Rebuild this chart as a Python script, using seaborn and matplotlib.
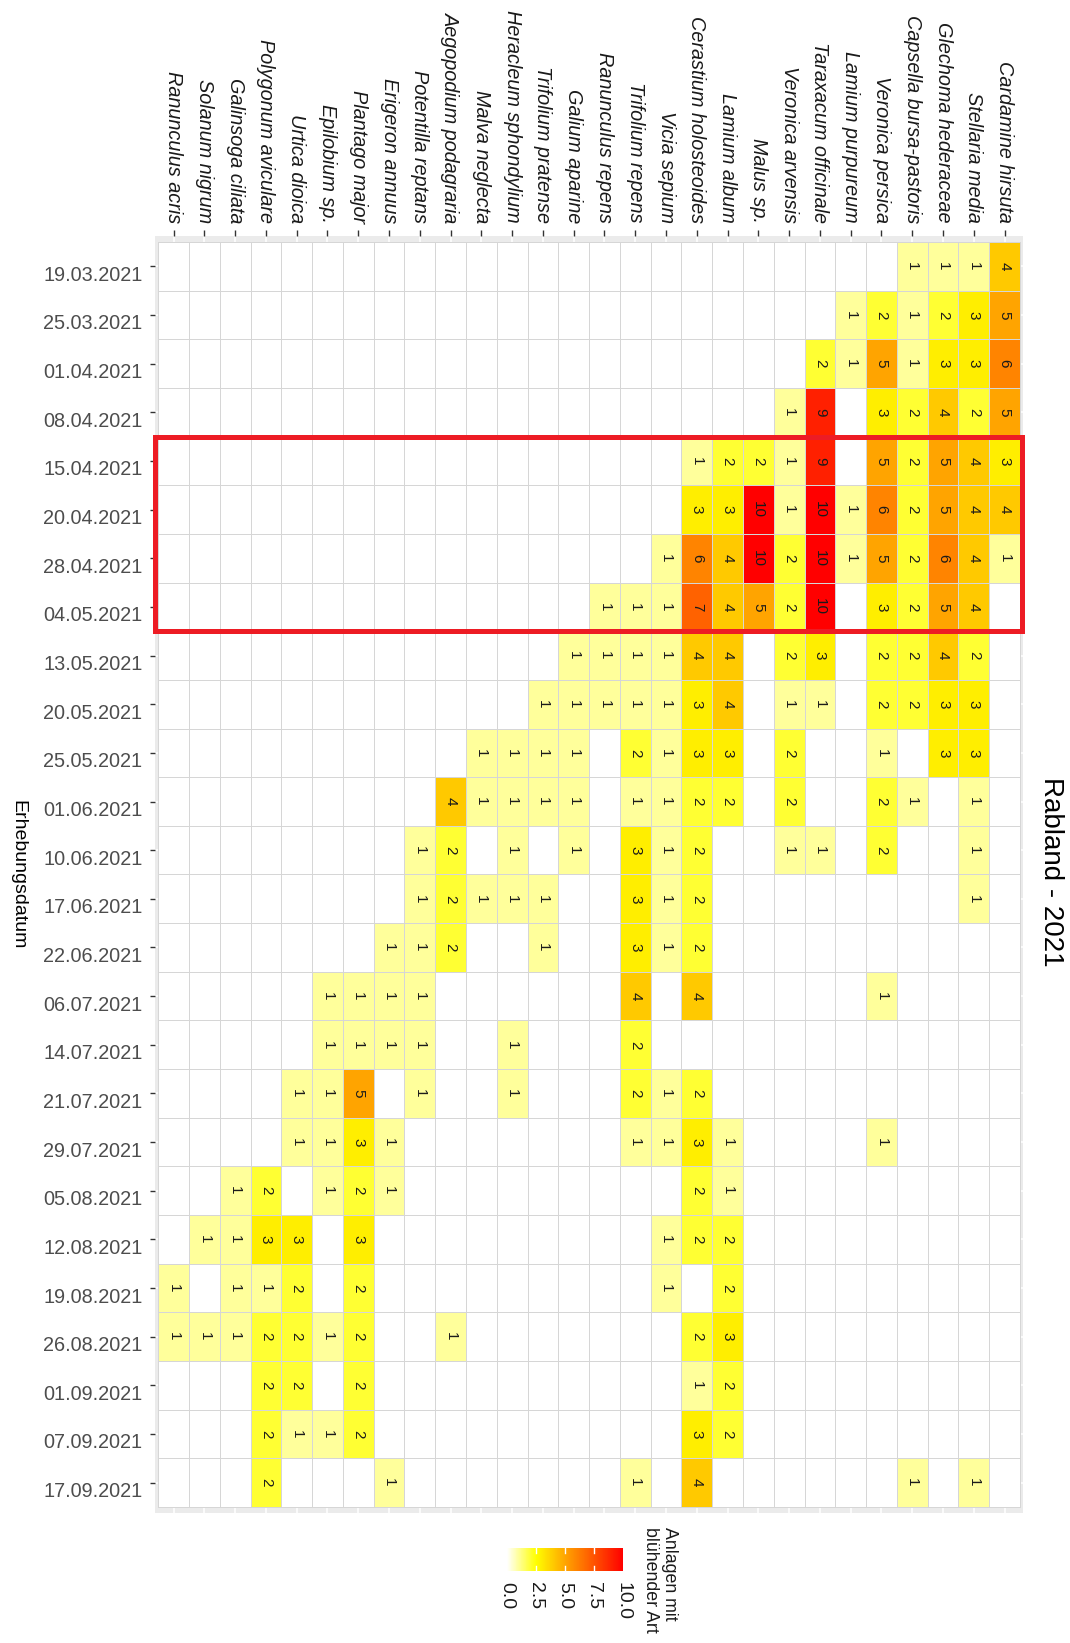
import numpy as np
import pandas as pd
import matplotlib
matplotlib.use("Agg")
import matplotlib.pyplot as plt
import matplotlib.transforms as mtransforms
from matplotlib.colors import LinearSegmentedColormap
from matplotlib.patches import Rectangle
import seaborn as sns

# ---------------- data ----------------
species = ["Ranunculus acris", "Solanum nigrum", "Galinsoga ciliata", "Polygonum aviculare",
           "Urtica dioica", "Epilobium sp.", "Plantago major", "Erigeron annuus",
           "Potentilla reptans", "Aegopodium podagraria", "Malva neglecta",
           "Heracleum sphondylium", "Trifolium pratense", "Galium aparine",
           "Ranunculus repens", "Trifolium repens", "Vicia sepium",
           "Cerastium holosteoides", "Lamium album", "Malus sp.", "Veronica arvensis",
           "Taraxacum officinale", "Lamium purpureum", "Veronica persica",
           "Capsella bursa-pastoris", "Glechoma hederaceae", "Stellaria media",
           "Cardamine hirsuta"]

dates = ["19.03.2021", "25.03.2021", "01.04.2021", "08.04.2021", "15.04.2021",
         "20.04.2021", "28.04.2021", "04.05.2021", "13.05.2021", "20.05.2021",
         "25.05.2021", "01.06.2021", "10.06.2021", "17.06.2021", "22.06.2021",
         "06.07.2021", "14.07.2021", "21.07.2021", "29.07.2021", "05.08.2021",
         "12.08.2021", "19.08.2021", "26.08.2021", "01.09.2021", "07.09.2021",
         "17.09.2021"]

# number of sites with flowering species, one list per survey date (order = species)
d_1903 = [0,0,0,0,0,0,0,0,0,0,0,0,0,0,0,0,0,0,0,0,0,0,0,0,1,1,1,4]
d_2503 = [0,0,0,0,0,0,0,0,0,0,0,0,0,0,0,0,0,0,0,0,0,0,1,2,1,2,3,5]
d_0104 = [0,0,0,0,0,0,0,0,0,0,0,0,0,0,0,0,0,0,0,0,0,2,1,5,1,3,3,6]
d_0804 = [0,0,0,0,0,0,0,0,0,0,0,0,0,0,0,0,0,0,0,0,1,9,0,3,2,4,2,5]
d_1504 = [0,0,0,0,0,0,0,0,0,0,0,0,0,0,0,0,0,1,2,2,1,9,0,5,2,5,4,3]
d_2004 = [0,0,0,0,0,0,0,0,0,0,0,0,0,0,0,0,0,3,3,10,1,10,1,6,2,5,4,4]
d_2804 = [0,0,0,0,0,0,0,0,0,0,0,0,0,0,0,0,1,6,4,10,2,10,1,5,2,6,4,1]
d_0405 = [0,0,0,0,0,0,0,0,0,0,0,0,0,0,1,1,1,7,4,5,2,10,0,3,2,5,4,0]
d_1305 = [0,0,0,0,0,0,0,0,0,0,0,0,0,1,1,1,1,4,4,0,2,3,0,2,2,4,2,0]
d_2005 = [0,0,0,0,0,0,0,0,0,0,0,0,1,1,1,1,1,3,4,0,1,1,0,2,2,3,3,0]
d_2505 = [0,0,0,0,0,0,0,0,0,0,1,1,1,1,0,2,1,3,3,0,2,0,0,1,0,3,3,0]
d_0106 = [0,0,0,0,0,0,0,0,0,4,1,1,1,1,0,1,1,2,2,0,2,0,0,2,1,0,1,0]
d_1006 = [0,0,0,0,0,0,0,0,1,2,0,1,0,1,0,3,1,2,0,0,1,1,0,2,0,0,1,0]
d_1706 = [0,0,0,0,0,0,0,0,1,2,1,1,1,0,0,3,1,2,0,0,0,0,0,0,0,0,1,0]
d_2206 = [0,0,0,0,0,0,0,1,1,2,0,0,1,0,0,3,1,2,0,0,0,0,0,0,0,0,0,0]
d_0607 = [0,0,0,0,0,1,1,1,1,0,0,0,0,0,0,4,0,4,0,0,0,0,0,1,0,0,0,0]
d_1407 = [0,0,0,0,0,1,1,1,1,0,0,1,0,0,0,2,0,0,0,0,0,0,0,0,0,0,0,0]
d_2107 = [0,0,0,0,1,1,5,0,1,0,0,1,0,0,0,2,1,2,0,0,0,0,0,0,0,0,0,0]
d_2907 = [0,0,0,0,1,1,3,1,0,0,0,0,0,0,0,1,1,3,1,0,0,0,0,1,0,0,0,0]
d_0508 = [0,0,1,2,0,1,2,1,0,0,0,0,0,0,0,0,0,2,1,0,0,0,0,0,0,0,0,0]
d_1208 = [0,1,1,3,3,0,3,0,0,0,0,0,0,0,0,0,1,2,2,0,0,0,0,0,0,0,0,0]
d_1908 = [1,0,1,1,2,0,2,0,0,0,0,0,0,0,0,0,1,0,2,0,0,0,0,0,0,0,0,0]
d_2608 = [1,1,1,2,2,1,2,0,0,1,0,0,0,0,0,0,0,2,3,0,0,0,0,0,0,0,0,0]
d_0109 = [0,0,0,2,2,0,2,0,0,0,0,0,0,0,0,0,0,1,2,0,0,0,0,0,0,0,0,0]
d_0709 = [0,0,0,2,1,1,2,0,0,0,0,0,0,0,0,0,0,3,2,0,0,0,0,0,0,0,0,0]
d_1709 = [0,0,0,2,0,0,0,1,0,0,0,0,0,0,0,1,0,4,0,0,0,0,0,0,1,0,1,0]

rows = [d_1903, d_2503, d_0104, d_0804, d_1504, d_2004, d_2804, d_0405, d_1305,
        d_2005, d_2505, d_0106, d_1006, d_1706, d_2206, d_0607, d_1407, d_2107,
        d_2907, d_0508, d_1208, d_1908, d_2608, d_0109, d_0709, d_1709]
for r in rows:
    assert len(r) == len(species)

highlight_dates = ["15.04.2021", "04.05.2021"]
legend_ticks = [0, 2.5, 5, 7.5, 10]

df = pd.DataFrame(rows, index=dates, columns=species)
annot = df.map(lambda v: "" if v == 0 else str(v))

# ---------------- style ----------------
plt.rcParams["font.family"] = ["Liberation Sans", "DejaVu Sans"]

W, H = 1070, 1643
fig = plt.figure(figsize=(W / 100, H / 100), dpi=100)

ax = fig.add_axes([0.1450, 0.07925, 0.8111, 0.7770])
cax = fig.add_axes([0.4738, 0.0438, 0.1084, 0.0140])

cmap = LinearSegmentedColormap.from_list(
    "wyor", [(0.0, "white"), (0.25, "yellow"), (0.5, "orange"), (1.0, "red")])

ax.set_facecolor("#EBEBEB")
ax.set_axisbelow(True)

sns.heatmap(df, ax=ax, cmap=cmap, vmin=0, vmax=10,
            annot=annot.values, fmt="",
            annot_kws={"rotation": 270, "fontsize": 11, "color": "#1a1a1a"},
            linewidths=0.7, linecolor="#D6D6D6",
            cbar_ax=cax, cbar_kws={"orientation": "horizontal", "ticks": legend_ticks})

ax.set_xlim(-0.1, len(species) + 0.1)
ax.set_ylim(len(dates) + 0.12, -0.12)
ax.grid(True, color="white", linewidth=1.1)
ax.set_axisbelow(True)
for s in ax.spines.values():
    s.set_visible(False)

ax.set_xlabel("")
ax.set_ylabel("")

# species along the top
ax.xaxis.tick_top()
ax.set_xticks(np.arange(len(species)) + 0.5)
ax.set_xticklabels(species, rotation=270, ha="center", va="bottom",
                   fontstyle="italic", fontsize=14.3, color="#1a1a1a")
ax.tick_params(axis="x", top=True, bottom=False, length=4.5, width=1.0,
               color="#333333", pad=5)

# dates along the left
ax.set_yticks(np.arange(len(dates)) + 0.5)
ax.set_yticklabels(dates, rotation=0, fontsize=14.3, color="#4D4D4D")
ax.tick_params(axis="y", left=True, length=3.6, width=1.0, color="#333333", pad=5.5)
offset = mtransforms.ScaledTranslation(0, -9 / 100, fig.dpi_scale_trans)
for lab in ax.get_yticklabels():
    lab.set_transform(lab.get_transform() + offset)

# highlight box
i0 = dates.index(highlight_dates[0])
i1 = dates.index(highlight_dates[1]) + 1
ax.add_patch(Rectangle((-0.12, i0), len(species) + 0.2, i1 - i0, fill=False,
                       edgecolor="#ED1C24", linewidth=3.6, zorder=10, clip_on=False))

# colourbar
cb = ax.collections[0].colorbar
cb.outline.set_visible(False)
cax.tick_params(length=0, pad=8)
cax.set_xticklabels(["0.0", "2.5", "5.0", "7.5", "10.0"], rotation=270,
                    ha="center", va="top", fontsize=14, color="#1a1a1a")
for t in legend_ticks[1:-1]:
    cax.axvline(t, 0, 0.2, color="white", linewidth=1)
    cax.axvline(t, 0.8, 1, color="white", linewidth=1)

fig.text(660 / W, 1 - 1527 / H, "Anlagen mit\nblühender Art", rotation=270,
         ha="center", va="top", multialignment="left", fontsize=12.8,
         linespacing=1.1, color="#1a1a1a")

# titles
fig.text(1051 / W, 1 - 872 / H, "Rabland - 2021", rotation=270, ha="center",
         va="center", fontsize=20, color="#000000")
fig.text(18 / W, 1 - 875 / H, "Erhebungsdatum", rotation=270, ha="center",
         va="center", fontsize=14, color="#000000")

fig.savefig("out.png", dpi=100)
